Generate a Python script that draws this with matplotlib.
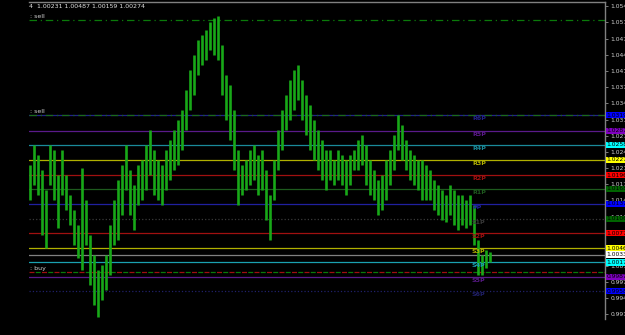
import matplotlib
matplotlib.use('Agg')
import matplotlib.pyplot as plt
import numpy as np

# bar highs / lows (one entry every ~4 px)
highs = [1.0217, 1.0258, 1.0237, 1.0207, 1.0165, 1.0258, 1.0248, 1.0196, 1.0248, 1.0196,
         1.0155, 1.0124, 1.0094, 1.0211, 1.0145, 1.0073, 1.0032, 1.0001, 1.0012, 1.0032,
         1.0094, 1.0145, 1.0186, 1.0217, 1.0258, 1.0207, 1.0176, 1.0217, 1.0227, 1.0258,
         1.0289, 1.0248, 1.0227, 1.0217, 1.0248, 1.0268, 1.0289, 1.0309, 1.0330, 1.0371,
         1.0412, 1.0442, 1.0473, 1.0484, 1.0494, 1.0510, 1.0518, 1.0522, 1.0463, 1.0401,
         1.0381, 1.0330, 1.0248, 1.0217, 1.0227, 1.0248, 1.0258, 1.0237, 1.0248, 1.0207,
         1.0155, 1.0227, 1.0289, 1.0330, 1.0360, 1.0391, 1.0412, 1.0422, 1.0391, 1.0360,
         1.0340, 1.0309, 1.0289, 1.0268, 1.0248, 1.0248, 1.0227, 1.0248, 1.0237, 1.0227,
         1.0237, 1.0248, 1.0268, 1.0278, 1.0258, 1.0227, 1.0207, 1.0186, 1.0196, 1.0227,
         1.0248, 1.0278, 1.0319, 1.0299, 1.0268, 1.0248, 1.0237, 1.0227, 1.0227, 1.0217,
         1.0207, 1.0186, 1.0176, 1.0165, 1.0155, 1.0176, 1.0165, 1.0155, 1.0155, 1.0145,
         1.0155, 1.0134, 1.0063, 1.0032, 1.0042, 1.0038]
lows = [1.0145, 1.0176, 1.0155, 1.0073, 1.0046, 1.0176, 1.0145, 1.0087, 1.0155, 1.0124,
        1.0094, 1.0052, 1.0026, 1.0001, 1.0052, 0.9970, 0.9929, 0.9905, 0.9940, 0.9960,
        0.9991, 1.0052, 1.0063, 1.0114, 1.0165, 1.0114, 1.0083, 1.0134, 1.0145, 1.0165,
        1.0196, 1.0155, 1.0145, 1.0134, 1.0165, 1.0186, 1.0207, 1.0217, 1.0248, 1.0289,
        1.0330, 1.0360, 1.0401, 1.0422, 1.0432, 1.0453, 1.0442, 1.0432, 1.0360, 1.0309,
        1.0268, 1.0207, 1.0134, 1.0155, 1.0165, 1.0176, 1.0186, 1.0155, 1.0165, 1.0104,
        1.0063, 1.0145, 1.0207, 1.0248, 1.0289, 1.0309, 1.0330, 1.0350, 1.0309, 1.0278,
        1.0248, 1.0227, 1.0207, 1.0186, 1.0165, 1.0186, 1.0176, 1.0186, 1.0176, 1.0155,
        1.0176, 1.0207, 1.0207, 1.0217, 1.0176, 1.0155, 1.0145, 1.0114, 1.0124, 1.0145,
        1.0176, 1.0207, 1.0248, 1.0227, 1.0207, 1.0186, 1.0176, 1.0165, 1.0145, 1.0145,
        1.0145, 1.0124, 1.0114, 1.0104, 1.0100, 1.0114, 1.0094, 1.0083, 1.0094, 1.0087,
        1.0094, 1.0052, 0.9991, 0.9991, 1.0005, 1.0018]

# pivot style levels: price, line colour, box colour, chart label
levels = [1.0319, 1.0287, 1.0258, 1.0227, 1.0196, 1.0168, 1.0137,
          1.0106, 1.0077, 1.0046, 1.0033, 1.0017, 0.9987, 0.9958]
line_colors = ['#22228a', '#5a1a8a', '#1a8a9a', '#b0b000', '#a01010', '#1e5a1e', '#2020a0',
               '#3a3a3a', '#a01010', '#b0b000', '#808080', '#1aa0b0', '#5a1a8a', '#20206a']
box_colors = ['#0000ff', '#8000c0', '#00ffff', '#ffff00', '#ff0000', '#006400', '#0000ff',
              '#006400', '#ff0000', '#ffff00', '#ffffff', '#00ffff', '#8000c0', '#0000ff']
line_styles = ['-', '-', '-', '-', '-', '-', '-', ':', '-', '-', '-', '-', '-', ':']
level_names = ['R6P', 'R5P', 'R4P', 'R3P', 'R2P', 'R1P', 'PP',
               'S1P', 'S2P', 'S3P', '', 'S4P', 'S5P', 'S6P']

sell_top = 1.0514
sell_low = 1.0319
buy_level = 0.9997

yticks = [1.05430, 1.05100, 1.04760, 1.04430, 1.04100, 1.03770, 1.03430, 1.03100, 1.02760,
          1.02440, 1.02100, 1.01770, 1.01440, 1.01100, 1.00770, 1.00430, 1.00100, 0.99770,
          0.99430, 0.99110]
info = '4  1.00231 1.00487 1.00159 1.00274'

fig = plt.figure(figsize=(6.25, 3.35), dpi=100, facecolor='black')
ax = fig.add_axes([29 / 625, 1 - 319 / 335, 576 / 625, 317 / 335])
ax.set_facecolor('black')

idx = np.arange(len(highs))
ax.vlines(idx, lows, highs, color='#18a818', linewidth=1.9, zorder=3)

for p, lc, ls in zip(levels, line_colors, line_styles):
    ax.axhline(p, color=lc, linestyle=ls, linewidth=0.9, zorder=2)

ax.axhline(sell_top, color='#0a7a0a', linestyle=(0, (6, 3, 1, 3)), linewidth=0.9, zorder=2)
ax.axhline(sell_low, color='#1a6a1a', linestyle=(0, (6, 3, 1, 3)), linewidth=0.9, zorder=2)
ax.axhline(buy_level, color='#a01010', linestyle=(0, (4, 6)), linewidth=0.9, zorder=2)
ax.axhline(buy_level, color='#0a7a0a', linestyle=(5, (4, 6)), linewidth=0.9, zorder=2)

ax.set_xlim(-0.25, 143.75)
ax.set_ylim(0.99007, 1.05512)

# chart labels near the right end of the price data
for p, lc, name in zip(levels, line_colors, level_names):
    if name:
        ax.text(110.5, p - 0.0002, name, color=lc, fontsize=4.5, fontweight='bold',
                va='top', ha='left', zorder=4)

tr = ax.get_yaxis_transform()
for p, bc in zip(levels, box_colors):
    ax.text(1.003, p, '%.5f' % p, transform=tr, fontsize=4.3, color='black',
            va='center', ha='left', zorder=5, clip_on=False,
            bbox=dict(facecolor=bc, edgecolor='none', pad=0.5))

ax.text(0.0, sell_top + 0.0003, ': sell', color='#d0d0d0', fontsize=4.5, va='bottom', ha='left')
ax.text(0.0, sell_low + 0.0003, ': sell', color='#d0d0d0', fontsize=4.5, va='bottom', ha='left')
ax.text(0.0, buy_level + 0.0003, ': buy', color='#d0d0d0', fontsize=4.5, va='bottom', ha='left')
ax.text(0.0, 0.995, info, transform=ax.transAxes, color='#e0e0e0', fontsize=4.5,
        va='top', ha='left')

ax.yaxis.tick_right()
ax.set_yticks(yticks)
ax.set_yticklabels(['%.5f' % t for t in yticks])
ax.tick_params(axis='y', colors='#909090', labelcolor='#d0d0d0', labelsize=4.3,
               length=2, width=0.6, pad=2)
ax.set_xticks([])
for s in ['left', 'bottom']:
    ax.spines[s].set_visible(False)
for s in ['top', 'right']:
    ax.spines[s].set_color('#808080')
    ax.spines[s].set_linewidth(1)

plt.savefig('out.png', dpi=100, facecolor='black')
